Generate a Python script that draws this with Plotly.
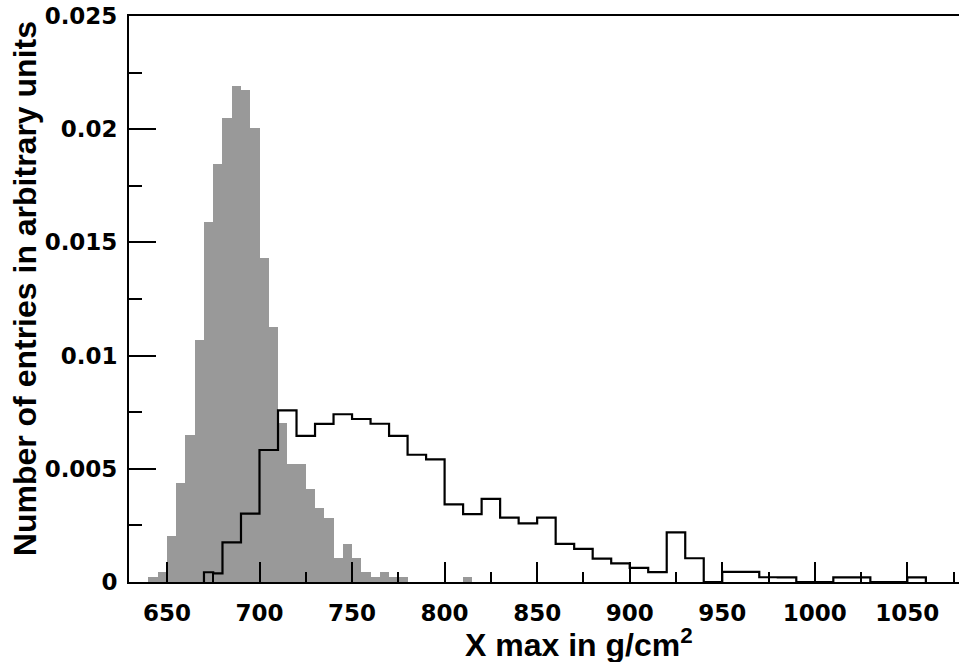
import plotly.graph_objects as go

# ---- data ----
gray_left_edges = [640, 645, 650, 655, 660, 665, 670, 675, 680, 685, 690, 695,
                   700, 705, 710, 715, 720, 725, 730, 735, 740, 745, 750, 755,
                   760, 765, 770, 775, 780, 785, 790, 795, 800, 805, 810]
gray_values = [0.00021, 0.00045, 0.00203, 0.00439, 0.00650, 0.01067, 0.01589,
               0.01848, 0.02049, 0.02192, 0.02173, 0.02007, 0.01432, 0.01128,
               0.00701, 0.00523, 0.00523, 0.00409, 0.00326, 0.00284, 0.00106,
               0.00169, 0.00106, 0.00045, 0.00022, 0.00045, 0.00022, 0.00022,
               0.0, 0.0, 0.0, 0.0, 0.0, 0.0, 0.00022]
gray_bin_width = 5

black_edges = [670, 675, 680, 690, 700, 710, 720, 730, 740, 750, 760, 770, 780,
               790, 800, 810, 820, 830, 840, 850, 860, 870, 880, 890, 900, 910,
               920, 930, 940, 950, 960, 970, 980, 990, 1000, 1010, 1020, 1030,
               1040, 1050, 1060]
black_values = [0.00043, 0.00038, 0.00175, 0.00302, 0.00583, 0.00758, 0.00645,
                0.00698, 0.00741, 0.00720, 0.00699, 0.00645, 0.00562, 0.00542,
                0.00343, 0.00300, 0.00367, 0.00284, 0.00259, 0.00284, 0.00168,
                0.00146, 0.00103, 0.00082, 0.00062, 0.00044, 0.00219, 0.00105,
                0.0, 0.00045, 0.00045, 0.00021, 0.00020, 0.0, 0.0, 0.00020,
                0.00020, 0.0, 0.0, 0.00020]

x_major_ticks = [650, 700, 750, 800, 850, 900, 950, 1000, 1050]
y_major_ticks = [0, 0.005, 0.01, 0.015, 0.02, 0.025]
y_tick_labels = ["0", "0.005", "0.01", "0.015", "0.02", "0.025"]

x_title = "X max in g/cm<sup>2</sup>"
y_title = "Number of entries in arbitrary units"

# ---- figure ----
gray_centers = [e + gray_bin_width / 2 for e in gray_left_edges]
step_x = [black_edges[0]] + black_edges
step_y = [0] + black_values + [0]

fig = go.Figure()
fig.add_trace(go.Bar(x=gray_centers, y=gray_values, width=gray_bin_width,
                     marker=dict(color="#999999", line=dict(width=0)),
                     showlegend=False))
fig.add_trace(go.Scatter(x=step_x, y=step_y, mode="lines",
                         line=dict(color="black", width=2.2, shape="hv"),
                         showlegend=False))

tick_font = dict(family="DejaVu Sans", size=23, color="black", weight="bold")
title_font = dict(family="Liberation Sans", size=32, color="black", weight="bold")

fig.update_layout(
    width=959, height=662,
    margin=dict(l=129, r=0, t=16, b=80, pad=0),
    paper_bgcolor="white", plot_bgcolor="white",
    bargap=0,
    xaxis=dict(range=[629.5, 1077.9], showline=True, linecolor="black",
               linewidth=2, mirror=True, ticks="inside", ticklen=20,
               tickwidth=2, tickcolor="black", tickmode="array",
               tickvals=x_major_ticks, tickfont=tick_font, showgrid=False,
               zeroline=False, ticklabelstandoff=9,
               minor=dict(ticks="inside", ticklen=10, tickwidth=2,
                          tickcolor="black", dtick=25, tick0=625,
                          showgrid=False)),
    yaxis=dict(range=[0, 0.025], showline=True, linecolor="black",
               linewidth=2, mirror=False, ticks="inside", ticklen=27,
               tickwidth=2, tickcolor="black", tickmode="array",
               tickvals=y_major_ticks, ticktext=y_tick_labels,
               tickfont=tick_font, showgrid=False, zeroline=False,
               ticklabelstandoff=5,
               minor=dict(ticks="inside", ticklen=13, tickwidth=2,
                          tickcolor="black", dtick=0.0025, tick0=0,
                          showgrid=False)),
    annotations=[
        dict(text=x_title, xref="paper", yref="paper", x=0.4024, y=-0.1069,
             xanchor="left", yanchor="middle", showarrow=False, font=title_font),
        dict(text=y_title, xref="paper", yref="paper", x=-0.125, y=0.5177,
             xanchor="center", yanchor="middle", textangle=-90,
             showarrow=False, font=title_font),
    ],
)

fig.write_html("out.html")
